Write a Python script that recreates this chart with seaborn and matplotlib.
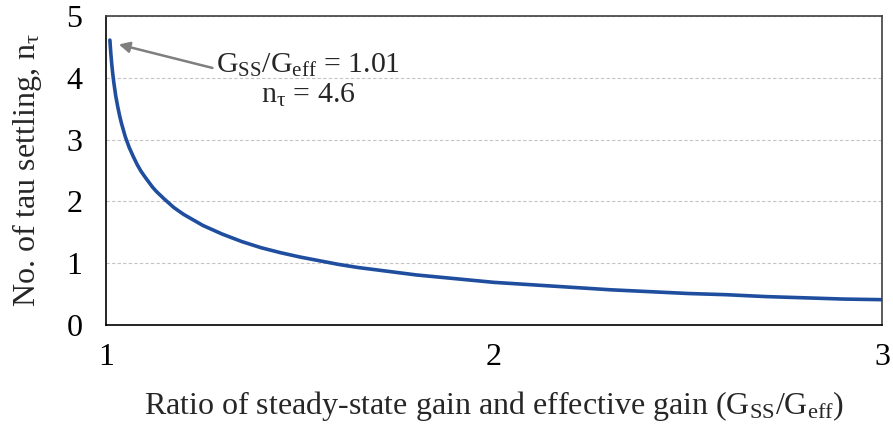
import matplotlib
matplotlib.use("Agg")
import matplotlib.pyplot as plt
import seaborn as sns
import pandas as pd

# Values
ratio = [1.01, 1.0125, 1.015, 1.0175, 1.02, 1.025, 1.03, 1.035, 1.04, 1.045,
         1.05, 1.06, 1.07, 1.08, 1.09, 1.10, 1.12, 1.13, 1.15, 1.175,
         1.20, 1.25, 1.30, 1.35, 1.40, 1.45, 1.50, 1.55, 1.60, 1.65, 1.70,
         1.75, 1.80, 1.90, 2.00, 2.10, 2.20, 2.30, 2.40, 2.50, 2.60, 2.70,
         2.80, 2.90, 3.00]
n_tau = [4.61, 4.39, 4.21, 4.06, 3.93, 3.71, 3.54, 3.39, 3.26, 3.15,
         3.04, 2.87, 2.73, 2.60, 2.49, 2.40, 2.23, 2.16, 2.04, 1.90,
         1.79, 1.61, 1.47, 1.35, 1.25, 1.17, 1.10, 1.04, 0.98, 0.93, 0.89,
         0.85, 0.81, 0.75, 0.69, 0.65, 0.61, 0.57, 0.54, 0.51, 0.49, 0.46,
         0.44, 0.42, 0.41]
x_ticks = [1, 1.5, 2, 2.5, 3]
x_tick_labels = ["1", "", "2", "", "3"]
y_ticks = [0, 1, 2, 3, 4, 5]

df = pd.DataFrame({"ratio": ratio, "n_tau": n_tau})

sns.set_style("white")
plt.rcParams["font.family"] = ["Liberation Serif", "DejaVu Serif"]
plt.rcParams["mathtext.fontset"] = "custom"
plt.rcParams["mathtext.rm"] = "Liberation Serif"
plt.rcParams["mathtext.it"] = "Liberation Serif"
plt.rcParams["mathtext.bf"] = "Liberation Serif:bold"

fig = plt.figure(figsize=(8.93, 4.29), dpi=100)
ax = fig.add_axes([0.1187, 0.2424, 0.869, 0.7203])

sns.lineplot(data=df, x="ratio", y="n_tau", ax=ax, color="#1f4e9f",
             linewidth=2.6, sort=False)

ax.set_xlim(1, 3)
ax.set_ylim(0, 5)
ax.set_xticks(x_ticks)
ax.set_xticklabels(x_tick_labels)
ax.set_yticks(y_ticks)

ax.yaxis.grid(True, linestyle=(0, (3, 2)), color="#c4c4c4", linewidth=0.8)
ax.xaxis.grid(False)

for s in ["left", "bottom"]:
    ax.spines[s].set_color("black")
    ax.spines[s].set_linewidth(1.2)
for s in ["top", "right"]:
    ax.spines[s].set_color("#404040")
    ax.spines[s].set_linewidth(1.2)

ax.tick_params(axis="both", direction="out", length=5, width=1.2,
               color="black", labelsize=23, labelcolor="black")
ax.tick_params(axis="x", pad=8)
ax.tick_params(axis="y", pad=12)

ax.set_xlabel("Ratio of steady-state gain and effective gain (G$_{\\mathrm{SS}}$/G$_{\\mathrm{eff}}$)",
              fontsize=23, labelpad=12)
ax.set_ylabel("No. of tau settling, n$_{\\tau}$", fontsize=23, labelpad=16)

ax.annotate("G$_{\\mathrm{SS}}$/G$_{\\mathrm{eff}}$ = 1.01\nn$_{\\tau}$ = 4.6",
            xy=(1.033, 4.54), xytext=(1.52, 3.96),
            fontsize=21.5, ha="center", va="center", linespacing=1.15,
            arrowprops=dict(arrowstyle="-|>", color="#7f7f7f", lw=1.8,
                            mutation_scale=16, shrinkA=0, shrinkB=0,
                            relpos=(0.0, 0.7)))

fig.savefig("out.png", dpi=100)
